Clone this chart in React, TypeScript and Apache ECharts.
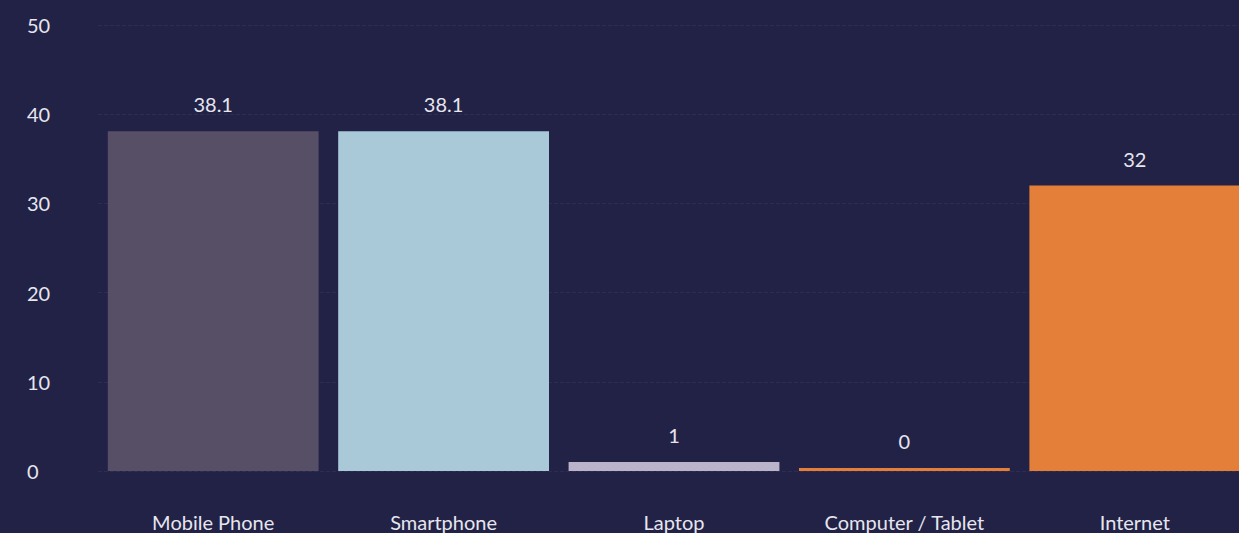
import React, { useEffect, useRef } from "react";
import * as echarts from "echarts";

const categories = ["Mobile Phone", "Smartphone", "Laptop", "Computer / Tablet", "Internet"];
const values = [38.1, 38.1, 1, 0, 32];
const barColors = ["#574f66", "#a9c9d9", "#bbb3ca", "#e37f38", "#e37f38"];
const yTicks = [0, 10, 20, 30, 40, 50];

export default function App() {
  const ref = useRef<HTMLDivElement>(null);
  useEffect(() => {
    const chart = echarts.init(ref.current!, null, { renderer: "svg" });
    const font = "Lato, 'Noto Sans', sans-serif";
    chart.setOption({
      animation: false,
      backgroundColor: "#222246",
      grid: { left: 98, right: 0, top: 25, bottom: 62 },
      xAxis: {
        type: "category",
        data: categories,
        axisLine: { show: false },
        axisTick: { show: false },
        axisLabel: { color: "#e6e6ee", fontSize: 20, fontFamily: font, margin: 41 },
      },
      yAxis: {
        type: "value",
        min: yTicks[0],
        max: yTicks[yTicks.length - 1],
        interval: 10,
        axisLine: { show: false },
        axisTick: { show: false },
        axisLabel: { color: "#e6e6ee", fontSize: 20, fontFamily: font, align: "left", margin: 71 },
        splitLine: { show: true, lineStyle: { color: "#2d2d52", type: "dashed", width: 1 } },
      },
      series: [
        {
          type: "bar",
          data: values.map((v, i) => ({ value: v, itemStyle: { color: barColors[i] } })),
          barCategoryGap: "8.5%",
          barMinHeight: 3,
          label: {
            show: true,
            position: "top",
            distance: 17,
            color: "#e6e6ee",
            fontSize: 20,
            fontFamily: font,
          },
        },
      ],
    });
    return () => chart.dispose();
  }, []);
  return (
    <div style={{ position: "fixed", left: 0, top: 0, width: 1239, height: 533, overflow: "hidden" }}>
      <div ref={ref} style={{ width: 1250, height: 533 }} />
    </div>
  );
}
